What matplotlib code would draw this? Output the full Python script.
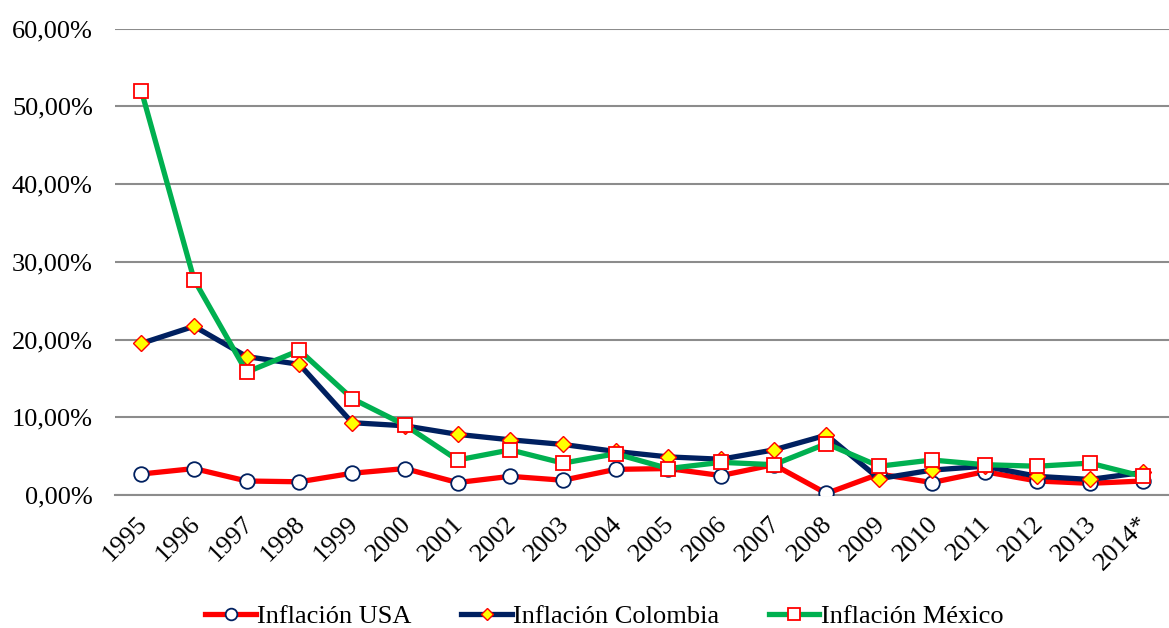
import matplotlib
matplotlib.use("Agg")
import matplotlib.pyplot as plt
from matplotlib.ticker import FuncFormatter
from matplotlib.transforms import ScaledTranslation

years = ["1995", "1996", "1997", "1998", "1999", "2000", "2001", "2002", "2003", "2004",
         "2005", "2006", "2007", "2008", "2009", "2010", "2011", "2012", "2013", "2014*"]
usa = [2.7, 3.4, 1.8, 1.7, 2.8, 3.4, 1.6, 2.4, 1.9, 3.3,
       3.4, 2.5, 3.9, 0.2, 2.7, 1.6, 3.0, 1.8, 1.5, 1.8]
colombia = [19.5, 21.7, 17.8, 16.8, 9.3, 8.9, 7.8, 7.1, 6.5, 5.6,
            4.9, 4.6, 5.8, 7.7, 2.1, 3.2, 3.7, 2.4, 2.0, 2.9]
mexico = [52.0, 27.7, 15.8, 18.6, 12.4, 9.0, 4.5, 5.8, 4.1, 5.3,
          3.4, 4.2, 3.9, 6.6, 3.7, 4.5, 3.9, 3.7, 4.1, 2.4]
yticks = [0, 10, 20, 30, 40, 50, 60]

plt.rcParams['font.family'] = ['Liberation Serif', 'DejaVu Serif']

fig = plt.figure(figsize=(11.69, 6.28), dpi=100)
ax = fig.add_axes([115/1169, 1 - 495/628, 1 - 115/1169, (495 - 28.5)/628])

x = list(range(len(years)))
ax.plot(x, usa, color='#FF0000', lw=3.8, marker='o', ms=10.5, mfc='white',
        mec='#002060', mew=1.3, label='Inflación USA', zorder=3)
ax.plot(x, colombia, color='#002060', lw=3.8, marker='D', ms=8, mfc='#FFFF00',
        mec='#FF0000', mew=1.0, label='Inflación Colombia', zorder=4)
ax.plot(x, mexico, color='#00B050', lw=3.8, marker='s', ms=10, mfc='white',
        mec='#FF0000', mew=1.3, label='Inflación México', zorder=5)

ax.set_xlim(-0.5, len(years) - 0.5)
ax.set_ylim(0, 60)
ax.set_yticks(yticks)
ax.yaxis.set_major_formatter(FuncFormatter(lambda v, p: f"{v:.2f}".replace('.', ',') + '%'))
ax.set_xticks(x)
ax.set_xticklabels(years, rotation=45, ha='right', rotation_mode='anchor')
ax.tick_params(axis='both', length=0, labelsize=19, colors='black')
ax.tick_params(axis='y', pad=16)
ax.tick_params(axis='x', pad=7)
off = ScaledTranslation(-5/100, -8/100, fig.dpi_scale_trans)
for lbl in ax.get_xticklabels():
    lbl.set_transform(lbl.get_transform() + off)
ax.grid(axis='y', color='#8C8C8C', lw=1.5)
ax.set_axisbelow(True)
for s in ['top', 'right', 'left']:
    ax.spines[s].set_visible(False)
ax.spines['bottom'].set_color('#8C8C8C')
ax.spines['bottom'].set_linewidth(1.5)

leg = fig.legend(loc='lower center', bbox_to_anchor=(0.517, -0.038), ncol=3, frameon=False,
                 fontsize=19, handlelength=1.9, handletextpad=0.05, columnspacing=1.9,
                 markerscale=0.8)

fig.savefig('out.png', dpi=100)
